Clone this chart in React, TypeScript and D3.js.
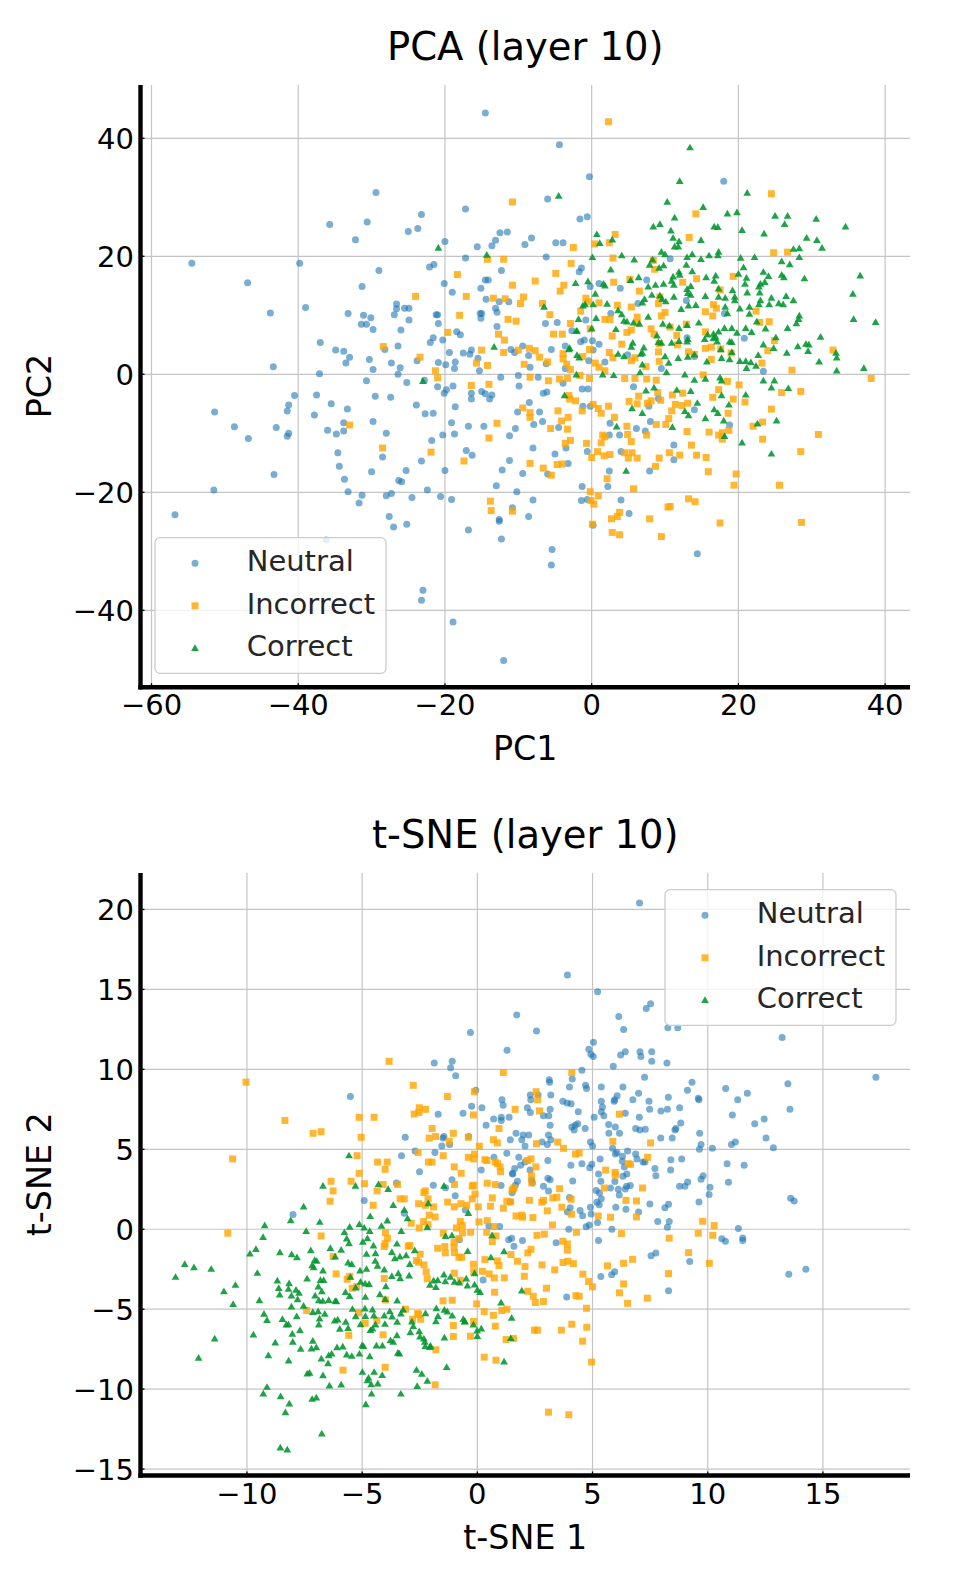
import React from 'react';
import * as d3 from 'd3';

type Pt = [number, number];

const seriesNames = ['Neutral', 'Incorrect', 'Correct'];
const pcaXTicks = [-60, -40, -20, 0, 20, 40];
const pcaYTicks = [-40, -20, 0, 20, 40];
const tsneXTicks = [-10, -5, 0, 5, 10, 15];
const tsneYTicks = [-15, -10, -5, 0, 5, 10, 15, 20];
const pcaXDomain = [-61.5, 43.39];
const pcaYDomain = [-53.03, 49.03];
const tsneXDomain = [-14.62, 18.78];
const tsneYDomain = [-15.4, 22.28];

const pcaNeutral: Pt[] = [
[-14.5,44.3],[-29.4,30.8],[-35.7,25.4],[-30.6,25.8],[-32.2,22.8],[-23.2,27.1],[-25.0,24.2],[-23.7,24.7],[-17.2,28.0],[-20.0,22.5],[-12.5,24.0],[-11.5,24.1],[-13.1,22.7],[-13.6,21.8],[-15.6,21.6],[-9.1,22.0],[-54.5,18.8],[-39.8,18.8],[-46.9,15.5],[-29.0,17.6],[-22.1,18.2],[-21.5,18.6],[-17.2,19.7],[-12.3,17.6],[-31.3,14.9],[-20.1,15.4],[-19.0,13.9],[-14.5,16.0],[-14.1,16.0],[-15.1,14.6],[-14.4,12.7],[-12.6,12.3],[-11.3,12.3],[-13.1,11.2],[-12.9,10.5],[-15.2,10.3],[-15.0,10.3],[-15.1,9.5],[-12.9,8.1],[-26.6,11.9],[-26.6,11.1],[-25.5,11.2],[-24.9,11.2],[-26.9,10.1],[-43.8,10.4],[-39.0,11.3],[-33.2,10.3],[-31.1,10.0],[-30.1,9.6],[-31.4,8.5],[-30.7,8.5],[-29.8,7.6],[-24.9,9.2],[-21.2,10.1],[-21.0,10.1],[-20.9,8.6],[-26.0,7.5],[-21.6,6.2],[-22.0,5.4],[-20.3,5.8],[-18.4,7.2],[-17.9,6.7],[-37.0,5.4],[-34.9,4.1],[-33.8,3.9],[-33.0,2.9],[-33.5,1.9],[-30.3,2.5],[-29.8,0.8],[-27.3,1.9],[-26.1,1.1],[-26.4,0],[-28.2,4.2],[-26.4,4.8],[-23.8,2.3],[-22.8,-1.0],[-19.4,3.7],[-20.9,2.0],[-19.9,1.6],[-18.6,2.1],[-18.7,1.0],[-17.5,3.6],[-16.4,4.1],[-16.6,3.4],[-15.5,2.7],[-15.3,0.6],[-12.4,-0.5],[-11.0,4.2],[-10.5,3.7],[-9.4,4.8],[-10.0,-0.2],[-43.4,1.3],[-37.1,0.1],[-30.7,-1.1],[-25.2,-1.4],
[-4.4,38.9],[-0.3,33.5],[18.0,32.7],[-6.0,29.7],[-1.6,26.3],[-0.6,26.7],[-8.2,23.1],[-4.9,22.3],[-3.9,22.3],[-6.2,19.9],[10.7,19.6],[-1.4,18.0],[-1.7,17.4],[1.0,15.4],[-0.2,14.9],[3.9,14.6],[7.5,16.0],[6.3,12.0],[12.9,12.5],[18.1,10.3],[2.6,10.3],[-6.3,8.6],[-4.7,8.8],[-0.8,9.2],[-1.5,5.5],[-1.0,5.8],[0.1,5.7],[1.0,5.1],[-3.6,4.8],[-5.5,4.2],[-2.7,7.4],[-8.6,3.2],[0.2,4.1],[-0.4,2.3],[1.8,2.1],[4.9,3.3],[13.0,6.2],[20.8,6.1],[23.4,0.5],[9.5,1.0],[-8.4,1.2],[-6.2,1.8],[-7.3,-0.5],[-3.6,1.0],[-3.9,-1.5],[14.0,3.0],
[-51.4,-6.4],[-48.7,-8.9],[-46.8,-10.9],[-43.0,-9.0],[-41.5,-6.2],[-41.3,-5.2],[-41.5,-10.5],[-41.3,-10.0],[-40.5,-3.6],[-37.5,-3.5],[-37.8,-6.9],[-35.5,-5.0],[-33.3,-5.9],[-36.0,-9.5],[-34.8,-10.1],[-33.8,-9.6],[-33.8,-8.2],[-34.6,-13.3],[-34.4,-15.6],[-33.7,-17.8],[-33.2,-19.9],[-31.3,-20.5],[-31.7,-21.8],[-29.5,-3.7],[-27.4,-3.9],[-29.8,-8.0],[-28.0,-10.0],[-28.5,-14.0],[-30.0,-16.5],[-26.3,-18.0],[-25.9,-18.2],[-25.3,-16.3],[-28.0,-20.6],[-27.3,-20.2],[-27.6,-24.1],[-27.0,-25.9],[-25.2,-25.4],[-24.5,-20.9],[-22.4,-19.6],[-23.9,-5.2],[-22.7,-6.7],[-21.6,-6.6],[-21.8,-11.2],[-23.2,-14.7],[-20.3,-10.3],[-20.6,-20.7],[-19.1,-21.2],[-20.0,-16.3],[-21.0,-2.1],[-20.1,-3.2],[-19.8,-2.6],[-18.9,-2.0],[-18.6,-5.5],[-19.1,-8.2],[-18.7,-10.1],[-17.1,-12.9],[-16.3,-13.7],[-16.8,-8.8],[-14.7,-8.8],[-16.4,-3.2],[-16.4,-4.2],[-15.0,-2.9],[-14.5,-3.3],[-13.9,-4.2],[-13.6,-3.5],[-12.2,-16.2],[-11.2,-14.6],[-11.2,-10.4],[-10.4,-9.2],[-10.1,-6.4],[-9.9,-2.0],[-9.4,-16.8],[-13.0,-18.9],[-10.2,-19.9],[-10.8,-22.6],[-16.8,-26.4],[-12.6,-24.6],[-12.6,-24.9],[-12.3,-27.9],[-56.8,-23.8],[-51.5,-19.6],[-43.3,-17.0],[-36.2,-28.1],[-23.0,-36.6],[-23.2,-38.3],[-18.9,-42.0],[-12.0,-48.5],
[-8.5,-4.8],[-6.6,-3.2],[-6.1,-3.0],[-7.1,-6.4],[-6.7,-8.0],[-7.9,-8.5],[-8.0,-12.5],[-5.0,-13.5],[-3.5,-12.5],[-3.2,-15.1],[-6.0,-16.9],[-4.5,-9.0],[-1.2,-5.4],[-0.2,-5.4],[-0.6,-13.1],[-1.3,-19.0],[-1.4,-21.4],[-0.6,-21.2],[-8.0,-21.3],[-8.6,-24.1],[-5.4,-29.7],[-5.5,-32.3],[0.2,-25.6],[2.5,-8.3],[2.4,-10.3],[3.8,-10.3],[4.0,-13.1],[2.4,-16.4],[2.2,-19.0],[4.0,-21.3],[5.1,-23.6],[6.1,-9.2],[7.3,-9.6],[8.0,-8.0],[7.8,-5.4],[9.1,-4.1],[11.2,-12.0],[11.2,-14.5],[7.9,-16.4],[14.4,-30.4],[18.8,-8.6],[14.0,-6.0],[5.7,-2.1],[-0.5,-2.5],[-1.3,-2.5]
];

const pcaIncorrect: Pt[] = [
[-10.8,29.2],[-14.2,19.5],[-12.0,19.5],[-18.3,16.9],[-10.8,15.1],[-24.0,13.2],[-17.1,13.2],[-13.4,12.9],[-11.8,12.8],[-9.3,13.1],[-9.7,12.0],[-18.0,10.0],[-11.4,9.3],[-10.3,9.0],[-19.6,7.1],[-12.7,6.8],[-11.9,5.8],[-28.4,4.7],[-23.4,2.9],[-15.0,4.1],[-12.0,3.7],[-10.0,4.1],[-15.7,1.9],[-14.2,1.5],[-9.2,1.7],[-21.3,0.6],[-21.0,-0.6],[-16.4,-1.9],[-14.0,-1.7],
[2.3,42.8],[24.5,30.6],[14.2,27.2],[13.3,23.2],[3.2,23.7],[2.4,22.3],[0.4,22.1],[-2.5,21.5],[24.8,20.6],[26.7,20.7],[2.9,19.7],[-2.8,18.8],[-4.9,17.1],[-7.7,15.8],[-3.8,15.1],[-4.3,14.1],[3.0,15.6],[5.2,16.1],[8.4,19.3],[8.6,17.8],[12.4,15.6],[14.3,16.2],[19.3,16.6],[17.5,14.3],[6.5,14.1],[-6.7,12.0],[-5.7,10.1],[-0.8,12.9],[-0.5,12.3],[1.0,12.1],[-1.5,10.7],[3.5,11.7],[5.4,11.4],[9.3,13.1],[9.1,12.0],[16.6,11.8],[15.5,10.6],[16.5,9.9],[17.0,11.2],[22.4,10.7],[22.9,8.8],[24.2,8.9],[-2.9,8.6],[-5.2,6.8],[-4.0,6.8],[-0.2,7.7],[1.8,9.3],[2.5,9.3],[6.2,9.7],[6.2,8.7],[9.5,9.9],[10.0,10.5],[10.7,8.0],[12.9,8.5],[8.1,7.7],[8.5,6.8],[4.8,7.1],[5.4,7.5],[2.8,6.5],[4.1,5.1],[11.6,6.6],[11.7,5.0],[9.2,5.2],[15.5,7.2],[15.5,4.4],[16.3,4.6],[17.6,4.3],[19.0,3.6],[24.0,4.0],[24.9,5.7],[32.9,4.1],[-8.5,4.4],[-7.7,4.0],[-7.1,2.9],[-6.0,2.1],[-3.9,3.5],[-3.9,2.6],[-3.4,1.7],[-2.9,0.8],[-1.2,3.0],[-0.3,4.2],[2.4,3.7],[2.9,2.8],[0.5,1.9],[1.0,1.2],[1.8,0.6],[9.1,3.8],[9.2,2.2],[13.2,3.8],[14.0,3.4],[5.9,2.8],[5.4,2.3],[7.4,1.3],[16.3,2.5],[23.2,1.9],[27.3,0.7],[15.2,-0.1],[-8.4,-0.5],[-5.9,-1.1],[-4.4,-0.8],[-3.3,-0.7],[-1.6,-0.2],[-0.3,-0.7],[4.5,-0.7],[5.9,-0.7],[7.5,-0.8],[8.8,-1.0],[38.1,-0.7],[18.5,-1.2],[20.1,-1.8],
[-33.0,-8.6],[-28.5,-12.5],[-21.9,-13.2],[-17.4,-14.7],[-14.0,-10.8],[-12.9,-8.3],[-13.8,-21.5],[-13.7,-23.1],[-10.8,-23.2],[-9.4,-5.7],
[-8.4,-6.5],[-8.4,-7.3],[-4.6,-6.2],[-4.1,-7.9],[-3.2,-7.3],[-5.6,-9.2],[-3.3,-9.3],[-2.9,-11.2],[-3.6,-11.7],[-8.4,-15.1],[-6.6,-15.9],[-4.7,-15.3],[-4.0,-15.2],[-5.5,-17.1],[-3.1,-3.6],[-2.2,-4.5],[-3.0,-4.2],[-1.3,-6.2],[0.2,-5.1],[0.9,-5.8],[1.3,-6.6],[2.3,-5.4],[3.1,-7.3],[-0.7,-11.7],[1.3,-11.6],[1.8,-10.6],[1.5,-10.3],[0.8,-13.1],[1.7,-13.8],[0.0,-14.1],[2.5,-13.6],[2.1,-17.7],[5.7,-19.4],[-0.2,-19.9],[0.9,-20.6],[0.3,-22.0],[-0.1,-21.4],[3.8,-23.4],[3.5,-24.1],[2.7,-24.5],[2.8,-26.8],[3.8,-27.2],[0.1,-25.4],[7.9,-24.5],[9.5,-27.5],[10.4,-22.5],[10.7,-22.4],[13.2,-21.1],[14.1,-21.6],[17.5,-25.2],[28.6,-25.1],[19.4,-18.8],[19.7,-16.9],[25.6,-18.8],[15.9,-16.5],[15.6,-14.1],[14.3,-13.7],[12.0,-13.7],[10.6,-13.3],[8.7,-15.6],[9.2,-14.2],[4.5,-13.3],[5.5,-13.3],[5.0,-14.2],[6.2,-14.2],[5.4,-11.4],[13.6,-12.0],[13.0,-9.7],[16.0,-9.8],[17.8,-11.0],[17.8,-9.9],[18.7,-9.5],[17.3,-10.3],[22.0,-8.8],[23.3,-8.1],[23.3,-11.0],[24.5,-5.9],[28.5,-13.1],[30.9,-10.2],[28.5,-2.9],[25.9,-3.1],[18.6,-6.6],[19.3,-4.2],[20.9,-4.7],[17.3,-2.6],[16.5,-3.9],[8.8,-8.5],[10.1,-8.5],[7.5,-10.3],[10.5,-7.5],[10.9,-6.2],[11.4,-5.1],[12.3,-5.3],[13.1,-4.9],[11.0,-3.5],[12.4,-3.2],[5.1,-4.6],[6.4,-3.7],[6.2,-5.0],[7.6,-4.9],[8.1,-4.5],[9.4,-4.4],[9.0,-3.1],[4.8,-8.8],[4.9,-10.2]
];

const pcaCorrect: Pt[] = [
[-20.9,21.4],[-14.3,20.2],[-13.3,4.6],[-23.0,-1.2],
[13.4,38.4],[12.0,32.7],[-4.5,30.2],[21.2,30.7],[10.3,29.2],[15.2,28.3],[11.3,26.5],[18.5,27.2],[19.8,27.4],[25.0,26.8],[26.7,26.8],[26.3,25.4],[30.6,26.3],[34.6,25.0],[8.4,25.0],[9.3,25.4],[16.7,25.0],[17.2,24.9],[10.8,24.3],[20.5,24.4],[23.5,23.8],[11.1,23.1],[11.9,22.5],[11.3,21.6],[11.8,21.6],[14.9,22.7],[29.3,23.1],[30.7,22.7],[31.4,21.4],[27.5,21.2],[28.3,21.3],[28.3,19.8],[0.7,23.7],[1.1,22.2],[2.8,22.8],[0.1,19.8],[4.1,20.1],[5.8,19.4],[9.5,20.7],[10.0,20.3],[13.0,19.8],[13.7,20.3],[14.9,19.5],[16.0,20.1],[17.2,20.1],[17.3,20.7],[20.3,19.7],[22.2,19.8],[25.9,19.1],[27.0,18.6],[2.6,17.7],[7.9,18.5],[8.3,19.4],[9.2,18.0],[9.8,18.4],[12.9,18.5],[13.7,17.4],[11.9,17.3],[11.1,16.5],[10.9,15.8],[12.0,16.8],[15.6,16.4],[16.9,16.7],[16.7,15.8],[17.3,14.5],[20.7,18.1],[20.0,17.0],[21.1,16.3],[20.9,15.3],[23.4,17.3],[24.1,16.6],[23.6,15.6],[23.0,15.3],[22.8,14.8],[25.9,16.8],[26.2,16.4],[29.0,16.2],[36.6,16.7],[-2.2,15.4],[-0.5,15.7],[1.6,15.3],[1.8,15.0],[6.4,16.4],[5.3,15.9],[7.7,14.8],[8.7,15.1],[9.8,15.3],[11.2,15.1],[13.0,14.4],[13.5,14.9],[13.1,13.7],[13.5,13.4],[15.5,13.2],[17.3,13.1],[18.2,12.9],[19.5,13.1],[19.2,14.2],[21.2,13.8],[22.9,13.8],[23.0,12.5],[24.5,12.9],[26.5,13.2],[27.5,12.5],[0.5,13.6],[-0.9,11.8],[0.2,11.8],[2.1,11.9],[8.2,13.4],[9.3,13.3],[9.6,12.7],[10.1,12.3],[11.2,13.1],[6.9,12.1],[7.2,12.7],[12.2,11.0],[13.2,11.6],[14.2,11.7],[18.2,11.4],[18.5,10.3],[19.5,12.5],[20.2,11.1],[21.5,11.4],[21.5,10.2],[22.8,11.8],[24.2,11.8],[25.5,12.0],[26.1,11.8],[-6.5,11.4],[-1.2,11.6],[-3.1,4.2],[-2.1,7.3],[-2.0,7.3],[-1.8,9.3],[0.6,9.5],[0.0,7.7],[3.6,10.8],[4.1,10.1],[4.4,9.0],[4.8,8.9],[3.3,7.6],[5.7,8.7],[6.5,8.5],[7.7,9.7],[9.7,8.5],[10.6,8.2],[11.9,7.8],[13.0,8.3],[14.6,8.7],[16.6,6.8],[16.9,6.3],[17.3,7.2],[18.1,7.8],[19.1,7.8],[19.8,7.0],[21.0,7.8],[21.8,7.1],[22.5,8.9],[23.7,7.7],[26.7,7.8],[27.9,8.6],[28.2,9.3],[28.3,9.9],[35.7,9.3],[38.7,8.8],[35.6,13.6],[31.2,6.3],[29.2,5.1],[29.6,5.0],[29.5,3.9],[28.1,4.7],[26.6,3.6],[33.3,3.6],[33.4,2.8],[31.0,2.1],[33.4,0.6],[37.1,1.0],[24.8,4.4],[25.1,6.2],[23.4,5.0],[22.7,3.2],[18.8,5.5],[19.1,3.7],[20.2,2.2],[21.0,2.2],[21.7,2.0],[21.1,1.0],[22.4,1.4],[5.6,5.3],[5.4,4.6],[7.1,4.5],[6.7,3.4],[8.9,6.5],[9.1,5.4],[9.5,5.3],[10.9,5.3],[11.9,5.6],[13.0,5.5],[13.1,5.9],[15.4,5.9],[15.8,6.7],[16.6,6.1],[17.1,5.5],[17.6,4.2],[19.1,5.4],[-3.0,4.4],[-2.0,3.2],[-1.7,2.8],[3.6,3.4],[4.4,3.0],[6.9,3.6],[6.9,1.6],[6.6,0.3],[10.0,3.0],[10.5,1.9],[11.8,2.7],[13.1,2.9],[14.0,3.3],[15.7,2.1],[17.7,2.7],[18.8,2.5],[-2.1,-0.1],[1.5,-0.1],[3.0,-0.2],[10.2,0.3],[12.7,-0.1],[14.0,-1.0],[15.5,-0.8],[17.5,-0.6],[17.7,-1.1],[23.4,-1.1],[24.9,-1.1],
[-3.7,-3.6],[5.5,-5.8],[6.9,-6.6],[7.4,-2.8],[8.5,-2.3],[3.4,-8.9],[4.7,-16.4],[11.0,-9.0],[11.6,-2.7],[13.5,-2.9],[14.4,-4.9],[12.7,-6.3],[13.2,-7.0],[15.5,-7.5],[16.7,-6.0],[17.2,-6.6],[17.7,-3.6],[18.7,-5.2],[18.0,-7.9],[18.1,-10.5],[20.5,-11.6],[21.0,-3.5],[22.6,-8.4],[24.5,-13.5],[25.2,-7.9],[24.5,-2.3],[26.8,-2.4]
];

const tsneNeutral: Pt[] = [
[1.71,13.4],[-0.30,12.3],[1.29,11.2],[-1.87,10.4],[-1.09,10.5],[-1.16,10.1],[-0.94,9.6],[-0.07,8.7],[-5.51,8.3],[1.07,8.1],[1.12,7.75],[-0.25,7.7],[0.20,7.6],[-0.62,7.25],[-1.70,7.2],[0.71,6.9],[1.04,7.0],[1.04,6.8],[1.38,7.0],[0.38,6.5],[-3.13,5.75],[-1.45,5.8],[-1.49,5.7],[-1.2,5.3],[-1.54,5.2],[-0.38,5.8],[1.43,5.6],[1.68,6.0],[1.99,5.9],[1.93,5.6],[-3.29,4.6],[-2.70,4.9],[-1.84,4.8],[1.28,4.75],[1.80,4.5],[0.72,4.5],[-2.51,3.6],[0.17,3.7],[1.62,3.8],[1.88,4.0],[1.52,3.5],[-3.51,2.9],[-1.91,2.75],[-1.10,3.1],[-0.96,2.1],[-1.38,2.6],[-4.91,1.8],[-0.52,1.2],
[7.04,20.4],[3.91,15.9],[5.22,14.85],[7.33,13.8],[7.52,14.1],[6.14,13.3],[6.35,12.5],[8.27,12.6],[8.7,12.6],[2.57,12.4],[13.23,12.0],[17.3,9.5],[5.04,11.7],[4.84,11.25],[4.93,10.95],[5.03,10.8],[6.22,10.9],[6.42,11.1],[7.06,11.1],[7.1,10.8],[7.57,11.1],[7.57,10.5],[8.23,10.4],[5.9,10.2],[4.54,9.95],[7.26,9.5],[9.32,9.2],[9.12,8.7],[10.78,8.8],[11.72,8.5],[11.3,8.1],[13.48,9.1],[13.57,7.5],[3.12,9.35],[3.14,9.2],[4.12,9.4],[4.0,8.9],[4.7,9.0],[4.74,8.8],[5.38,8.9],[6.32,8.9],[6.07,8.35],[5.96,8.1],[5.94,8.0],[6.75,8.1],[7.0,8.5],[7.45,8.0],[8.29,8.25],[9.59,8.2],[9.62,8.1],[3.71,8.0],[3.9,7.9],[4.07,7.85],[5.38,8.0],[5.43,7.65],[5.38,7.35],[5.49,7.1],[5.07,7.0],[2.30,8.4],[2.32,8.1],[2.64,8.4],[3.19,8.4],[2.17,7.6],[2.30,7.3],[3.16,7.5],[2.87,7.1],[3.10,7.1],[4.38,7.35],[6.42,7.25],[7.03,7.0],[7.48,7.5],[7.97,7.4],[8.25,7.5],[8.78,7.6],[8.83,6.65],[8.62,6.3],[8.58,6.2],[7.96,5.7],[8.46,5.7],[9.65,6.0],[9.71,5.3],[9.64,5.0],[10.2,5.06],[11.03,5.3],[11.2,5.45],[12.04,6.6],[12.45,6.9],[12.53,5.7],[12.85,5.1],[11.07,7.15],[4.25,6.5],[4.1,6.4],[4.36,6.6],[4.68,6.3],[4.2,6.2],[5.7,6.55],[5.99,6.4],[6.17,6.0],[5.71,6.0],[6.87,6.3],[7.06,6.2],[7.29,6.25],[3.16,6.5],[3.09,5.9],[3.19,5.6],[2.81,5.45],[3.04,5.3],[2.23,5.9],[2.07,5.2],[4.91,5.45],[5.0,5.2],[5.87,5.06],[5.99,4.7],[6.06,4.8],[6.52,4.9],[6.87,4.7],[6.93,4.4],[7.28,4.2],[7.19,4.2],[7.71,3.8],[8.4,4.35],[8.87,4.4],[8.39,3.7],[10.84,4.1],[11.58,4.0],[5.33,4.4],[3.06,4.3],[4.06,4.0],[4.54,4.1],[4.88,3.85],[4.97,4.06],[6.3,4.56],[6.29,4.25],[6.38,3.9],[2.07,4.2],[2.29,3.7],
[-8.0,0.92],[-3.17,1.0],[-0.78,-0.65],
[1.54,3.46],[1.74,3.0],[1.65,2.75],[1.03,2.73],[1.55,2.48],[1.51,2.29],[1.42,1.71],[2.36,3.08],[2.39,2.9],[2.87,2.69],[3.09,2.4],[3.06,3.19],[3.16,3.1],[4.14,3.02],[4.0,1.98],[4.03,1.35],[3.91,1.08],[4.46,1.17],[4.57,0.85],[4.91,1.38],[4.94,0.96],[4.86,0.27],[4.72,0.15],[3.97,0.0],[5.26,3.46],[5.36,3.0],[5.16,2.42],[5.3,2.27],[5.29,1.54],[5.19,1.69],[5.38,1.9],[5.22,0.42],[5.26,-0.71],[5.84,0.0],[5.78,2.58],[5.97,2.98],[6.12,2.5],[6.16,2.15],[6.42,2.52],[6.48,2.69],[6.64,2.73],[6.49,3.46],[6.32,3.31],[6.01,1.38],[6.45,1.25],[7.0,1.08],[7.49,1.58],[7.75,3.35],[8.14,1.35],[8.3,1.56],[7.83,0.48],[8.33,0.48],[8.25,0.13],[7.54,-1.65],[7.75,-1.48],[9.22,-2.02],[5.96,-2.65],[5.83,-2.85],[5.36,-2.96],[8.3,-3.85],[3.88,-4.23],[3.42,-0.85],[1.96,-0.71],[1.59,-1.06],[1.36,-0.65],[1.49,-0.56],[0.97,0.17],[0.5,0.2],[0.25,-3.17],[8.78,2.69],[9.01,2.69],[9.13,2.96],[9.71,3.13],[9.8,3.35],[10.9,2.94],[10.1,2.63],[10.06,2.17],[9.62,1.71],[11.33,0.04],[10.61,-0.6],[10.77,-0.75],[11.52,-0.54],[11.52,-0.71],[13.6,1.94],[13.75,1.77],[13.52,-2.81],[14.26,-2.5]
];

const tsneIncorrect: Pt[] = [
[-3.83,10.5],[-10.04,9.2],[1.13,9.8],[-2.78,9.0],[-0.13,8.6],[-1.30,8.3],[-2.52,7.6],[-2.25,7.5],[-2.74,7.2],[-2.54,7.3],[-0.17,7.15],[1.64,7.5],[-8.35,6.8],[-5.13,7.0],[-4.48,7.0],[-7.13,6.0],[-6.78,6.1],[-5.04,5.75],[-1.96,6.3],[-2.09,5.7],[-1.81,5.8],[-1.04,6.0],[-1.22,5.5],[-0.39,5.75],[0.94,6.3],[0.70,5.6],[0.87,5.4],[0.09,5.2],[-0.12,4.7],[-0.39,4.5],[-0.16,4.4],[0.33,4.35],[0.42,4.3],[0.78,4.2],[0.88,4.1],[0.99,3.9],[1.01,3.6],[-10.62,4.4],[-5.22,4.6],[-4.33,4.2],[-3.91,4.2],[-4.0,3.75],[-2.57,4.8],[-2.12,4.2],[-1.97,4.2],[-1.48,4.6],[-1.0,3.9],[-0.7,3.5],[-5.13,3.5],[-6.35,3.0],[-6.26,2.4],[-6.39,1.75],[-5.48,3.0],[-4.9,2.85],[-4.35,2.4],[-4.09,2.8],[-3.46,2.8],[-4.52,1.5],[-3.35,1.9],[-3.17,1.9],[-2.26,2.4],[-2.32,2.3],[-2.14,1.9],[-2.55,1.6],[-2.26,1.5],[-1.90,1.4],[-1.29,1.7],[-1.0,1.4],[-0.99,2.8],[-0.22,2.7],[-0.17,2.75],[-0.10,2.2],[-0.22,1.9],[0.04,1.4],[-0.71,1.6],[-0.46,1.5],
[4.10,9.8],[2.55,8.6],[2.62,8.1],[2.7,7.4],[6.17,7.2],[2.57,5.35],[3.49,5.45],[3.74,5.06],[4.26,4.7],[4.42,4.77],[5.88,5.5],[7.52,5.4],[7.39,4.5],[6.55,4.1],[6.65,4.06],[5.57,3.7],[5.98,3.56],[2.33,4.4],[2.54,3.9],[2.17,4.3],
[-10.83,-0.25],[-6.78,-0.42],[-6.26,-1.71],[-6.13,-2.79],[-5.65,-3.13],[-5.54,-2.94],[-5.43,-3.69],[-5.23,-3.58],[-7.41,-5.08],[-5.58,-6.63],[-5.83,-8.81],[-4.0,-8.63],[-5.16,-5.23],[-4.87,-5.88],[-4.36,-5.71],[-4.09,-6.6],[-3.99,-4.42],[-4.04,-3.08],[-3.99,-0.21],[-3.9,-0.56],[-4.0,-0.9],[-4.04,-1.08],[-3.12,-5.0],[-3.0,-1.06],[-2.93,-1.02],[-2.64,-1.96],[-2.55,-2.06],[-2.48,-1.56],[-2.32,-2.23],[-2.22,-2.67],[-2.17,-3.1],[-2.55,-5.33],[-2.46,-5.63],[-2.81,-5.63],[-2.59,-5.27],[-2.87,0.38],[-2.52,0.08],[-2.33,0.48],[-2.14,0.29],[-2.09,0.88],[-1.83,0.77],[-1.8,-7.54],[-1.83,-9.73],[-1.72,-1.19],[-1.39,-1.48],[-0.99,-1.46],[-1.01,-1.1],[-1.41,-1.08],[-1.48,-0.25],[-0.91,0.08],[-0.74,0.48],[-0.65,0.23],[-0.64,-0.23],[-0.8,-0.58],[-1.01,-0.81],[-1.0,-2.75],[-0.74,-3.19],[-1.49,-4.48],[-1.09,-4.44],[-1.04,-6.02],[-1.04,-6.71],[-0.3,-6.69],[-0.17,-5.77],[-0.8,-1.75],[-0.68,-1.75],[-0.17,-2.19],[-0.29,-0.19],[-0.16,-2.65],[-0.03,-4.67],[0.07,0.46],
[0.43,2.88],[0.78,2.79],[1.51,2.46],[1.59,2.58],[2.36,2.9],[2.35,3.35],[3.57,2.54],[0.65,1.96],[0.57,1.44],[1.13,1.31],[1.28,1.75],[1.45,1.71],[2.26,1.81],[2.8,1.69],[2.87,1.81],[3.28,1.96],[3.45,2.0],[3.67,1.38],[4.07,1.88],[3.04,1.15],[0.43,0.54],[0.74,0.17],[1.68,0.83],[1.93,0.88],[1.96,0.75],[2.41,0.73],[3.26,0.27],[4.09,0.94],[5.25,0.83],[5.78,0.75],[6.91,0.77],[6.45,1.81],[6.91,1.77],[7.17,2.58],[5.51,2.58],[5.99,3.38],[0.41,-0.19],[0.81,-0.42],[0.65,-0.77],[2.59,-0.38],[2.91,-0.31],[4.3,-0.19],[3.91,-0.92],[3.71,-0.75],[3.91,-1.31],[6.26,-0.27],[8.33,-0.56],[9.59,-0.25],[10.22,-0.38],[9.78,0.5],[10.28,0.23],[9.17,-1.46],[10.07,-2.13],[8.3,-2.77],[0.33,-1.9],[0.87,-1.98],[0.94,-2.27],[1.46,-1.58],[1.74,-2.0],[2.19,-1.48],[2.33,-1.25],[2.07,-2.33],[2.81,-2.23],[3.72,-2.08],[3.93,-2.0],[4.17,-2.15],[3.36,-2.54],[0.22,-2.63],[0.51,-2.79],[0.74,-3.04],[1.17,-3.04],[2.04,-2.94],[4.58,-2.81],[4.83,-3.27],[5.0,-3.6],[5.65,-2.29],[6.35,-2.13],[6.74,-1.88],[6.35,-3.42],[6.17,-3.98],[6.52,-4.63],[7.38,-4.31],[0.75,-3.94],[2.19,-3.88],[2.43,-4.19],[2.52,-4.58],[2.87,-4.52],[3.0,-3.69],[4.28,-4.15],[4.42,-4.19],[0.3,-5.15],[0.7,-5.38],[1.06,-5.08],[1.28,-5.0],[0.78,-6.06],[2.48,-6.31],[2.61,-6.31],[3.65,-6.31],[4.1,-5.94],[4.75,-6.13],[4.74,-4.94],[4.57,-7.0],[1.25,-6.9],[1.57,-6.83],[0.3,-8.0],[0.81,-8.19],[4.96,-8.31],[3.09,-11.44],[3.97,-11.6]
];

const tsneCorrect: Pt[] = [
[-5.57,4.6],[-6.70,2.7],[-5.29,2.7],[-4.29,2.8],[-3.87,2.5],[-1.45,2.7],[-7.54,1.4],[-3.65,1.5],[-2.13,1.6],[-3.17,1.2],
[-9.23,0.23],[-8.1,0.54],[-6.84,0.44],[-7.43,-0.13],[-9.3,-0.5],[-9.87,-1.54],[-9.61,-1.25],[-8.57,-1.46],[-8.06,-1.58],[-7.83,-1.77],[-7.23,-1.33],[-12.7,-2.2],[-12.3,-2.4],[-11.55,-2.5],[-13.1,-3.0],[-11.0,-3.9],[-10.5,-3.5],[-10.6,-4.7],[-9.55,-2.75],[-9.46,-4.46],[-8.68,-3.23],[-8.62,-3.69],[-8.58,-4.1],[-8.17,-3.4],[-8.2,-3.75],[-7.87,-3.8],[-8.07,-4.17],[-7.74,-4.0],[-7.8,-4.4],[-8.07,-4.85],[-7.84,-5.46],[-7.54,-4.8],[-7.39,-3.1],[-7.17,-2.27],[-7.06,-1.94],[-6.97,-2.0],[-7.1,-2.4],[-6.7,-2.6],[-6.81,-3.2],[-6.67,-3.2],[-6.9,-3.6],[-6.75,-3.9],[-7.04,-4.17],[-6.88,-4.46],[-6.71,-4.5],[-6.45,-4.44],[-6.17,-4.5],[-6.12,-4.52],[-7.14,-5.2],[-6.91,-5.15],[-6.62,-5.3],[-6.85,-5.6],[-6.88,-5.98],[-9.26,-5.3],[-9.13,-5.7],[-8.46,-5.63],[-8.29,-5.98],[-8.2,-5.96],[-7.7,-6.33],[-8.03,-6.56],[-8.01,-7.06],[-9.72,-6.6],[-8.77,-7.1],[-9.07,-7.9],[-11.4,-6.85],[-12.1,-8.06],[-8.19,-8.23],[-7.67,-7.5],[-7.2,-7.48],[-7.14,-7.0],[-6.99,-7.4],[-6.77,-8.1],[-6.48,-8.4],[-6.32,-7.8],[-6.45,-7.9],[-6.09,-7.4],[-6.38,-1.2],[-6.17,-1.73],[-5.91,-1.3],[-5.61,-2.1],[-5.45,-2.2],[-5.77,-0.2],[-5.67,-0.6],[-5.57,-0.9],[-5.54,0.13],[-5.12,0.3],[-4.91,0.08],[-4.65,0.8],[-4.67,-0.13],[-4.97,-0.8],[-4.77,-0.58],[-4.51,-1.04],[-4.42,-1.52],[-3.91,0.52],[-4.16,0.19],[-3.3,-0.13],[-3.49,-0.92],[-3.71,-1.44],[-3.36,-1.73],[-3.09,-1.65],[-2.72,-1.33],[-3.03,0.67],[-2.17,0.1],[-4.81,-1.56],[-4.43,-2.0],[-4.33,-2.3],[-5.09,-2.6],[-4.81,-2.5],[-4.04,-2.54],[-3.71,-2.94],[-3.43,-2.77],[-3.35,-3.08],[-2.93,-2.2],[-2.96,-2.92],[-5.51,-3.0],[-5.07,-3.3],[-5.28,-3.67],[-4.87,-3.42],[-4.7,-3.44],[-3.97,-3.58],[-5.72,-3.94],[-5.54,-4.2],[-4.86,-4.25],[-4.23,-4.08],[-4.0,-4.38],[-3.48,-4.48],[-5.42,-5.0],[-5.28,-5.46],[-4.88,-4.98],[-4.55,-5.04],[-4.86,-5.44],[-4.49,-5.42],[-4.42,-5.98],[-4.01,-5.94],[-4.04,-5.42],[-3.8,-5.15],[-3.7,-5.48],[-3.48,-5.81],[-4.55,-6.23],[-4.64,-6.33],[-5.71,-5.81],[-5.61,-6.2],[-5.97,-6.25],[-6.06,-5.67],[-6.19,-5.73],[-5.07,-5.96],[-3.32,-5.29],[-3.22,-5.04],[-2.84,-5.79],[-2.91,-6.46],[-2.78,-6.08],[-2.49,-6.73],[-2.28,-7.06],[-2.03,-7.31],[-3.49,-6.65],[-3.77,-6.96],[-3.65,-7.06],[-4.12,-7.29],[-4.38,-7.29],[-5.0,-7.27],[-4.94,-7.33],[-5.12,-7.8],[-4.67,-7.96],[-5.45,-7.94],[-5.84,-7.35],[-5.67,-7.85],[-3.45,-7.75],[-3.38,-7.79],[-1.43,-6.79],[-1.33,-8.63],[-1.8,-5.77],[-2.64,-8.81],[-2.41,-9.06],[-2.17,-9.5],[-2.61,-9.83],[-3.32,-10.3],[-4.99,-8.94],[-4.48,-8.94],[-4.13,-9.13],[-4.72,-9.31],[-4.77,-9.46],[-4.61,-9.71],[-4.32,-9.67],[-4.59,-10.3],[-4.84,-10.96],[-5.91,-9.73],[-6.42,-9.79],[-7.28,-9.0],[-7.38,-9.04],[-6.7,-9.15],[-9.13,-9.88],[-9.29,-10.29],[-8.54,-10.46],[-8.16,-10.92],[-8.33,-11.46],[-7.17,-10.63],[-6.99,-10.54],[-6.75,-12.8],[-8.55,-13.67],[-8.25,-13.79],[-0.54,-5.77],[-0.17,-5.98],[-0.01,-6.35],[0.0,-6.7],[-0.12,-2.77],[-0.42,-1.38],[0.0,-3.8],[-1.9,-3.23],[-1.72,-3.2],[-2.06,-3.5],[-1.8,-3.63],[-1.45,-2.85],[-1.17,-3.0],[-1.39,-3.27],[-0.99,-3.3],[-0.78,-3.35],[-0.48,-3.1],[-0.43,-3.54],[-0.12,-3.48],[-2.25,-5.27],[-1.78,-4.96],[-1.71,-5.44],[-1.43,-5.06],[-1.3,-5.17],[-1.09,-5.42],[-0.61,-5.63],[-0.55,-5.79],[-2.52,-6.4],[-2.32,-6.85],[-2.26,-7.33],[-2.06,-7.38],[-1.38,-0.44],[-1.1,-0.4],[-0.39,1.0],[-3.58,-1.83],
[0.64,-0.4],[1.16,-1.4],[0.59,-1.77],[1.93,-3.85],[1.03,-4.6],[1.49,-5.56],[0.17,-6.23],[1.45,-6.83],[1.16,-8.29],[0.12,-3.94]
];

const FONT = 'DejaVu Sans, sans-serif';
const STYLES: Record<string, { fill: string; opacity: number }> = {
  Neutral: { fill: '#1f77b4', opacity: 0.6 },
  Incorrect: { fill: '#ffa500', opacity: 0.8 },
  Correct: { fill: '#00962f', opacity: 0.88 },
};

const fmt = (d: number) => (d < 0 ? '\u2212' + Math.abs(d) : String(d));
const triPath = d3.symbol().type(d3.symbolTriangle).size(26)() as string;

function Marker({ name, cx, cy }: { name: string; cx: number; cy: number }) {
  const s = STYLES[name];
  if (name === 'Neutral') return <circle cx={cx} cy={cy} r={3.5} fill={s.fill} fillOpacity={s.opacity} />;
  if (name === 'Incorrect')
    return <rect x={cx - 3.5} y={cy - 3.5} width={7} height={7} fill={s.fill} fillOpacity={s.opacity} />;
  return <path d={triPath} transform={`translate(${cx},${cy + 0.4})`} fill={s.fill} fillOpacity={s.opacity} />;
}

type PanelProps = {
  title: string; xLabel: string; yLabel: string;
  xDomain: number[]; yDomain: number[];
  xTicks: number[]; yTicks: number[];
  data: Pt[][];
  top: number; bottom: number;
  legendX: number; legendY: number;
};

function Panel(p: PanelProps) {
  const left = 140.5, right = 910;
  const x = d3.scaleLinear().domain(p.xDomain).range([left, right]);
  const y = d3.scaleLinear().domain(p.yDomain).range([p.bottom, p.top]);
  const grid = '#c4c4c4';
  const midX = (left + right) / 2;
  const midY = (p.top + p.bottom) / 2;
  return (
    <g fontFamily={FONT}>
      <text x={midX} y={p.top - 25} textAnchor="middle" fontSize={38.5} fill="#000">{p.title}</text>
      {p.xTicks.map((t) => (
        <line key={'gx' + t} x1={x(t)} x2={x(t)} y1={p.top} y2={p.bottom} stroke={grid} strokeWidth={1.2} />
      ))}
      {p.yTicks.map((t) => (
        <line key={'gy' + t} x1={left} x2={right} y1={y(t)} y2={y(t)} stroke={grid} strokeWidth={1.2} />
      ))}
      {p.data.map((pts, si) => (
        <g key={'s' + si}>
          {pts.map((d, i) => (
            <Marker key={i} name={seriesNames[si]} cx={x(d[0])} cy={y(d[1])} />
          ))}
        </g>
      ))}
      {p.xTicks.map((t) => (
        <g key={'tx' + t}>
          <line x1={x(t)} x2={x(t)} y1={p.bottom} y2={p.bottom - 4} stroke="#000" strokeWidth={1.3} />
          <text x={x(t)} y={p.bottom + 28} textAnchor="middle" fontSize={29}>{fmt(t)}</text>
        </g>
      ))}
      {p.yTicks.map((t) => (
        <g key={'ty' + t}>
          <line x1={left} x2={left + 4} y1={y(t)} y2={y(t)} stroke="#000" strokeWidth={1.3} />
          <text x={134} y={y(t)} dy="0.36em" textAnchor="end" fontSize={29}>{fmt(t)}</text>
        </g>
      ))}
      <line x1={left} x2={left} y1={p.top} y2={p.bottom + 2.2} stroke="#000" strokeWidth={4.4} />
      <line x1={left - 2.2} x2={right} y1={p.bottom} y2={p.bottom} stroke="#000" strokeWidth={4.4} />
      <text x={midX} y={p.bottom + 73} textAnchor="middle" fontSize={33.3}>{p.xLabel}</text>
      <text transform={`translate(51,${midY}) rotate(-90)`} textAnchor="middle" fontSize={33.3}>{p.yLabel}</text>
      <g transform={`translate(${p.legendX},${p.legendY})`}>
        <rect x={0} y={0} width={231} height={135.6} rx={5} fill="#fff" fillOpacity={0.8} stroke="#cccccc" strokeWidth={1.3} />
        {seriesNames.map((n, i) => (
          <g key={n}>
            <Marker name={n} cx={40} cy={25.6 + i * 42.5} />
            <text x={91.7} y={25.6 + i * 42.5 + 8} fontSize={29} fill="#262626">{n}</text>
          </g>
        ))}
      </g>
    </g>
  );
}

export default function App() {
  return (
    <svg width={966} height={1570} style={{ position: 'absolute', left: 0, top: 0, background: '#fff' }}>
      <rect width={966} height={1570} fill="#fff" />
      <Panel title="PCA (layer 10)" xLabel="PC1" yLabel="PC2" xDomain={pcaXDomain} yDomain={pcaYDomain}
        xTicks={pcaXTicks} yTicks={pcaYTicks} data={[pcaNeutral, pcaIncorrect, pcaCorrect]}
        top={85} bottom={687.2} legendX={155} legendY={537.7} />
      <Panel title="t-SNE (layer 10)" xLabel="t-SNE 1" yLabel="t-SNE 2" xDomain={tsneXDomain} yDomain={tsneYDomain}
        xTicks={tsneXTicks} yTicks={tsneYTicks} data={[tsneNeutral, tsneIncorrect, tsneCorrect]}
        top={873} bottom={1475.5} legendX={665} legendY={889.7} />
    </svg>
  );
}
